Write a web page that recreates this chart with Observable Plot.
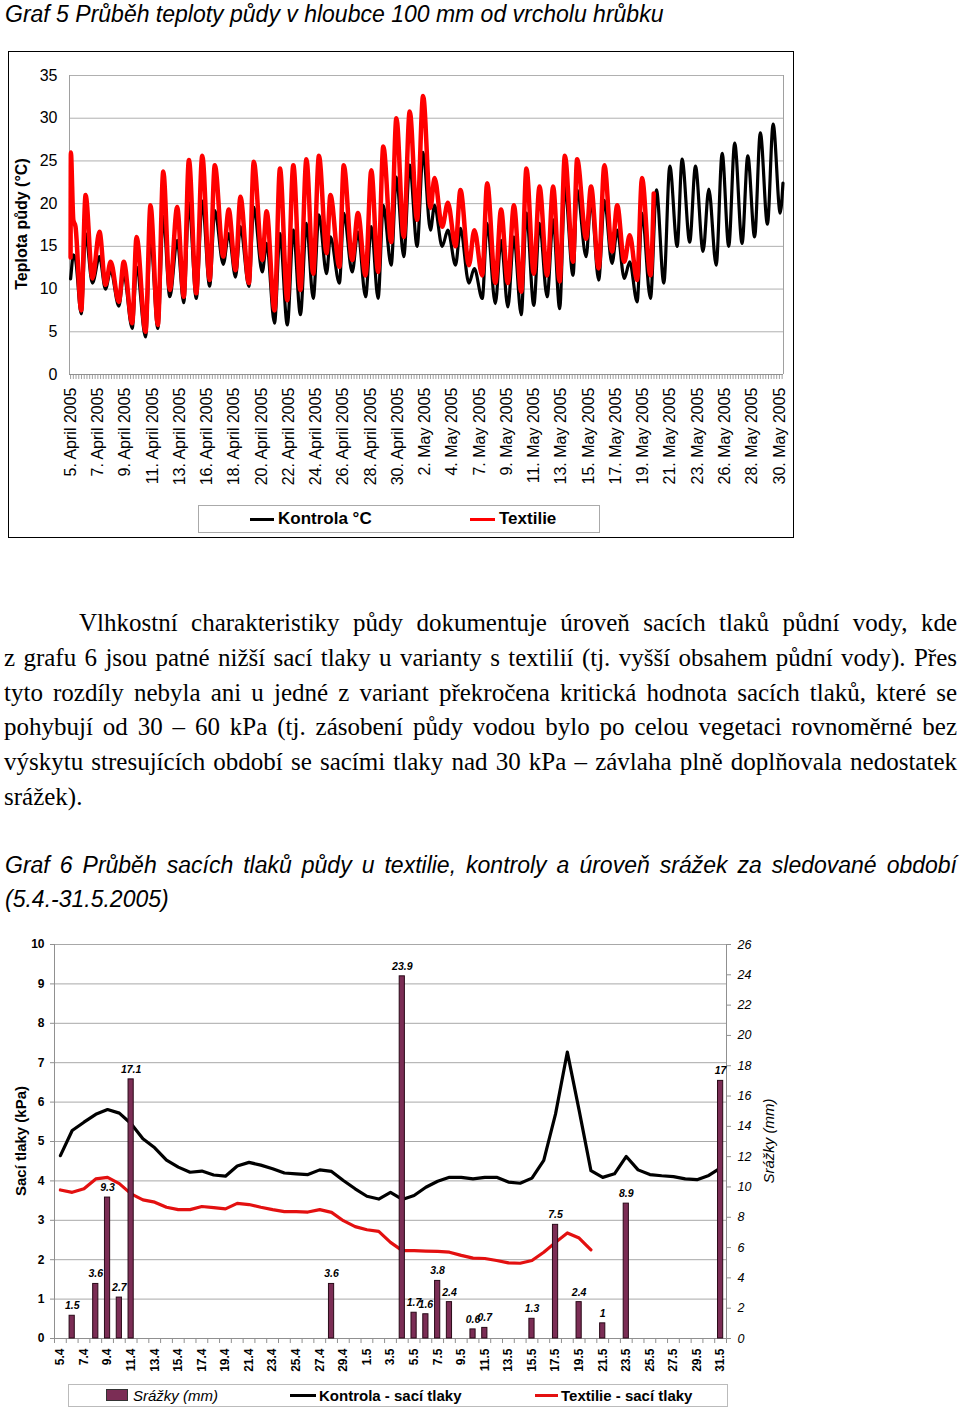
<!DOCTYPE html>
<html><head><meta charset="utf-8">
<script src="https://cdn.jsdelivr.net/npm/d3@7"></script>
<script src="https://cdn.jsdelivr.net/npm/@observablehq/plot@0.6"></script>
<style>
body{margin:0;background:#fff;}
#page{position:relative;width:960px;height:1408px;overflow:hidden;font-family:"Liberation Sans",Arial,sans-serif;color:#000;background:#fff;}
.abs{position:absolute;}
.rot{position:absolute;transform:translate(-50%,-50%) rotate(-90deg);white-space:nowrap;}
.jl{text-align:justify;text-align-last:justify;}
svg{overflow:visible;}
</style></head><body><div id="page">
<div class="abs" style="left:5px;top:0px;line-height:28px;font-size:23px;font-style:italic;">Graf 5 Průběh teploty půdy v hloubce 100 mm od vrcholu hrůbku</div>
<div class="abs" style="left:8px;top:51px;width:786px;height:487px;border:1.5px solid #000;box-sizing:border-box;"></div>
<div id="chart1" class="abs" style="left:8px;top:52px;"></div>
<div class="rot" style="left:22px;top:224px;font-size:16px;font-weight:bold;">Teplota půdy (°C)</div>
<div class="abs" style="left:198px;top:505px;width:402px;height:28px;border:1px solid #aaa;box-sizing:border-box;"></div>
<div class="abs" style="left:250px;top:518px;width:24px;height:2.5px;background:#000;"></div>
<div class="abs" style="left:278px;top:509px;line-height:20px;font-size:17px;font-weight:bold;">Kontrola °C</div>
<div class="abs" style="left:470px;top:517.5px;width:25px;height:3px;background:#f00;"></div>
<div class="abs" style="left:499px;top:509px;line-height:20px;font-size:17px;font-weight:bold;">Textilie</div>

<div class="abs" style="left:4px;top:606px;width:953px;font-family:'Liberation Serif','Times New Roman',serif;font-size:25px;line-height:34.8px;">
<div class="jl" style="padding-left:75px;">Vlhkostní charakteristiky půdy dokumentuje úroveň sacích tlaků půdní vody, kde</div>
<div class="jl">z grafu 6 jsou patné nižší sací tlaky u varianty s textilií (tj. vyšší obsahem půdní vody). Přes</div>
<div class="jl">tyto rozdíly nebyla ani u jedné z variant překročena kritická hodnota sacích tlaků, které se</div>
<div class="jl">pohybují od 30 – 60 kPa (tj. zásobení půdy vodou bylo po celou vegetaci rovnoměrné bez</div>
<div class="jl">výskytu stresujících období se sacími tlaky nad 30 kPa – závlaha plně doplňovala nedostatek</div>
<div>srážek).</div>
</div>

<div class="abs" style="left:5px;top:848px;width:952px;font-size:23px;font-style:italic;line-height:34px;">
<div class="jl">Graf 6 Průběh sacích tlaků půdy u textilie, kontroly a úroveň srážek za sledované období</div>
<div>(5.4.-31.5.2005)</div>
</div>

<div id="chart2" class="abs" style="left:0px;top:930px;"></div>
<div class="rot" style="left:20px;top:1141px;font-size:15px;font-weight:bold;">Sací tlaky (kPa)</div>
<div class="rot" style="left:768px;top:1141px;font-size:15px;font-style:italic;">Srážky (mm)</div>
<div class="abs" style="left:68px;top:1384px;width:660px;height:23px;border:1px solid #bbb;box-sizing:border-box;"></div>
<div class="abs" style="left:106px;top:1389px;width:22px;height:12px;background:#7b2d55;border:1px solid #333;box-sizing:border-box;"></div>
<div class="abs" style="left:133px;top:1386px;line-height:19px;font-size:15px;font-style:italic;">Srážky (mm)</div>
<div class="abs" style="left:290px;top:1394px;width:26px;height:3px;background:#000;"></div>
<div class="abs" style="left:319px;top:1386px;line-height:19px;font-size:15px;font-weight:bold;">Kontrola - sací tlaky</div>
<div class="abs" style="left:535px;top:1394px;width:23px;height:3px;background:#e31010;"></div>
<div class="abs" style="left:561px;top:1386px;line-height:19px;font-size:15px;font-weight:bold;">Textilie - sací tlaky</div>
</div>
<script>
// ---------- Graf 5: soil temperature ----------
const dateLabels = ["5. April 2005","7. April 2005","9. April 2005","11. April 2005","13. April 2005","16. April 2005","18. April 2005","20. April 2005","22. April 2005","24. April 2005","26. April 2005","28. April 2005","30. April 2005","2. May 2005","4. May 2005","7. May 2005","9. May 2005","11. May 2005","13. May 2005","15. May 2005","17. May 2005","19. May 2005","21. May 2005","23. May 2005","26. May 2005","28. May 2005","30. May 2005"];
const tempTicks = [0,5,10,15,20,25,30,35];
// positions along the category axis (in label-slot units) of daily extremes
const tempX = [0.00,0.01,0.10,0.18,0.39,0.55,0.80,1.06,1.28,1.47,1.77,1.95,2.26,2.42,2.75,2.93,3.20,3.40,3.64,3.91,4.15,4.34,4.61,4.83,5.10,5.29,5.60,5.80,6.05,6.23,6.54,6.72,7.03,7.19,7.48,7.68,7.95,8.17,8.43,8.65,8.90,9.11,9.39,9.53,9.86,10.02,10.33,10.54,10.82,11.03,11.28,11.47,11.76,11.95,12.22,12.44,12.71,12.93,13.20,13.35,13.63,13.84,14.12,14.30,14.61,14.81,15.10,15.28,15.58,15.79,16.04,16.26,16.53,16.72,16.99,17.20,17.48,17.70,17.94,18.13,18.43,18.58,18.91,19.09,19.37,19.58,19.86,20.05,20.31,20.51,20.78,20.96,21.27,21.39];
const textilieT = [13.7,26.0,18.1,17.3,7.5,21.0,11.25,16.7,10.5,13.2,8.5,13.2,6.0,16.1,5.0,19.8,5.8,23.75,9.9,19.6,9.1,25.1,9.5,25.6,11.05,24.5,13.8,19.3,12.2,20.8,10.7,24.9,13.4,19.1,7.5,24.1,8.7,24.5,9.9,25.2,11.8,25.6,14.2,21.0,12.6,24.5,13.4,18.9,11.6,23.9,12.0,26.7,15.5,30.0,16.1,30.8,18.1,32.6,19.5,23.0,17.3,20.1,15.0,21.6,12.8,16.9,11.6,22.4,10.7,19.3,10.7,19.8,9.7,24.1,11.8,22.0,11.6,22.0,10.9,25.6,13.2,25.2,15.9,22.0,12.4,24.5,14.4,19.8,13.2,16.3,11.05,23.0,11.6,21.2];
const kontrolaTailX = [21.49,21.76,21.98,22.25,22.43,22.71,22.92,23.20,23.41,23.68,23.90,24.14,24.36,24.63,24.84,25.09,25.30,25.56,25.77,26.03,26.13];
const kontrolaT = [11.2,11.5,14.0,13.5,7.1,16.5,10.7,13.8,10.0,12.2,8.0,11.8,5.4,12.6,4.4,16.1,5.4,18.5,9.1,15.7,8.4,20.1,8.9,20.3,10.35,19.2,12.9,16.5,11.4,17.3,10.3,19.6,12.0,15.35,6.0,16.5,5.8,16.9,7.0,17.7,8.9,18.7,11.8,16.1,10.7,18.9,12.0,16.7,9.1,17.3,8.9,19.8,12.8,23.1,13.8,24.5,15.0,26.0,16.9,19.8,15.0,16.9,12.8,17.1,10.7,12.4,8.9,17.7,8.3,15.7,7.9,16.1,7.0,18.9,8.1,17.7,9.1,18.1,7.7,22.0,11.6,21.6,13.8,20.4,11.05,20.4,13.0,16.9,11.25,13.2,8.5,18.9,8.9,
  21.6,10.7,24.4,15.0,25.2,15.5,24.4,14.4,21.7,12.8,25.9,15.0,27.1,15.35,25.6,16.1,28.3,17.6,29.3,18.9,22.4];

const kontrolaX = tempX.slice(0, 93).concat(kontrolaTailX);
const textilie = textilieT.map((t, i) => ({x: tempX[i], t}));
const kontrola = kontrolaT.map((t, i) => ({x: kontrolaX[i], t}));

const xDom1 = [-0.04, 26.15];
const chart1 = Plot.plot({
  width: 784, height: 450,
  marginLeft: 61, marginRight: 9, marginTop: 23, marginBottom: 128,
  x: {domain: xDom1},
  y: {domain: [0, 35]},
  style: {fontFamily: "'Liberation Sans', Arial, sans-serif", fontSize: "16px", color: "#000", background: "transparent"},
  marks: [
    Plot.gridY(tempTicks.slice(1), {stroke: "#b0b0b0", strokeOpacity: 1}),
    Plot.ruleX(xDom1, {stroke: "#a0a0a0"}),
    Plot.axisY({ticks: tempTicks, tickSize: 0, tickPadding: 12, label: null, fontSize: 16}),
    Plot.axisX({ticks: d3.range(0, 26.15, 0.1), tickSize: 5, tickFormat: () => "", stroke: "#a0a0a0", label: null}),
    Plot.ruleY([0], {stroke: "#909090"}),
    Plot.axisX({ticks: dateLabels.map((_, i) => i), tickFormat: i => dateLabels[i], tickRotate: -90, tickSize: 0, tickPadding: 13, label: null, fontSize: 16}),
    Plot.line(kontrola, {x: "x", y: "t", stroke: "#000", strokeWidth: 3.2, curve: "monotone-x", strokeLinejoin: "round"}),
    Plot.line(textilie, {x: "x", y: "t", stroke: "#f00", strokeWidth: 4.5, curve: "monotone-x", strokeLinejoin: "round"})
  ]
});
document.getElementById("chart1").append(chart1);

// ---------- Graf 6: suction pressure and rainfall ----------
const dayLabels = ["5.4","6.4","7.4","8.4","9.4","10.4","11.4","12.4","13.4","14.4","15.4","16.4","17.4","18.4","19.4","20.4","21.4","22.4","23.4","24.4","25.4","26.4","27.4","28.4","29.4","30.4","1.5","2.5","3.5","4.5","5.5","6.5","7.5","8.5","9.5","10.5","11.5","12.5","13.5","14.5","15.5","16.5","17.5","18.5","19.5","20.5","21.5","22.5","23.5","24.5","25.5","26.5","27.5","28.5","29.5","30.5","31.5"];
const kontrolaKPa = [4.64,5.28,5.49,5.69,5.81,5.72,5.45,5.07,4.84,4.53,4.35,4.22,4.25,4.15,4.12,4.38,4.47,4.40,4.31,4.20,4.18,4.16,4.28,4.24,4.01,3.80,3.61,3.54,3.71,3.53,3.63,3.84,3.99,4.09,4.09,4.05,4.09,4.09,3.97,3.94,4.07,4.52,5.70,7.27,5.79,4.26,4.09,4.18,4.62,4.28,4.16,4.13,4.11,4.05,4.03,4.14,4.33];
const textilieKPa = [3.77,3.71,3.80,4.05,4.09,3.93,3.67,3.52,3.46,3.33,3.27,3.27,3.35,3.32,3.29,3.43,3.40,3.33,3.27,3.22,3.22,3.21,3.27,3.20,2.99,2.84,2.76,2.72,2.44,2.23,2.23,2.22,2.21,2.19,2.11,2.04,2.03,1.98,1.92,1.91,1.98,2.19,2.44,2.68,2.55,2.25];
const rainDays = ["6.4","8.4","9.4","10.4","11.4","28.4","4.5","5.5","6.5","7.5","8.5","10.5","11.5","15.5","17.5","19.5","21.5","23.5","31.5"];
const rainMm = [1.5,3.6,9.3,2.7,17.1,3.6,23.9,1.7,1.6,3.8,2.4,0.6,0.7,1.3,7.5,2.4,1,8.9,17];
const kpaTicks = [0,1,2,3,4,5,6,7,8,9,10];
const mmTicks = [0,2,4,6,8,10,12,14,16,18,20,22,24,26];

const mmMax = 26, kpaMax = 10;
const toKpa = mm => mm * kpaMax / mmMax;
const rain = rainDays.map((d, k) => ({i: dayLabels.indexOf(d), mm: rainMm[k]}));
const kLine = kontrolaKPa.map((v, i) => ({i, v}));
const tLine = textilieKPa.map((v, i) => ({i, v}));

const xDom2 = [-0.5, dayLabels.length - 0.5];
const chart2 = Plot.plot({
  width: 800, height: 450,
  marginLeft: 54, marginRight: 74, marginTop: 14, marginBottom: 42,
  x: {domain: xDom2},
  y: {domain: [0, kpaMax]},
  style: {fontFamily: "'Liberation Sans', Arial, sans-serif", fontSize: "12px", color: "#000", background: "transparent"},
  marks: [
    Plot.gridY(kpaTicks.slice(1), {stroke: "#a8a8a8", strokeOpacity: 1}),
    Plot.ruleX(xDom2, {stroke: "#909090"}),
    Plot.axisY({ticks: kpaTicks, tickSize: 4, tickPadding: 6, label: null, fontWeight: "bold", fontSize: 12, stroke: "#909090"}),
    Plot.axisY({anchor: "right", ticks: mmTicks.map(toKpa), tickFormat: d => Math.round(d * mmMax / kpaMax), tickSize: 4, tickPadding: 7, label: null, fontStyle: "italic", fontSize: 12.5, stroke: "#909090"}),
    Plot.axisX({ticks: d3.range(-0.5, dayLabels.length, 1), tickSize: 5, tickFormat: () => "", stroke: "#909090", label: null}),
    Plot.ruleY([0], {stroke: "#909090"}),
    Plot.axisX({ticks: dayLabels.map((_, i) => i).filter(i => i % 2 === 0), tickFormat: i => dayLabels[i], tickRotate: -90, tickSize: 0, tickPadding: 10, label: null, fontWeight: "bold", fontSize: 12}),
    Plot.line(kLine, {x: "i", y: "v", stroke: "#000", strokeWidth: 3.2, strokeLinejoin: "round"}),
    Plot.line(tLine, {x: "i", y: "v", stroke: "#e31010", strokeWidth: 3.2, strokeLinejoin: "round"}),
    Plot.rectY(rain, {x1: d => d.i - 0.22, x2: d => d.i + 0.22, y1: 0, y2: d => toKpa(d.mm), fill: "#7b2d55", stroke: "#2a0a18", strokeWidth: 1}),
    Plot.text(rain, {x: "i", y: d => toKpa(d.mm), text: d => String(d.mm), dy: -10, fontStyle: "italic", fontWeight: "bold", fontSize: 10.5})
  ]
});
document.getElementById("chart2").append(chart2);
</script>
</body></html>
